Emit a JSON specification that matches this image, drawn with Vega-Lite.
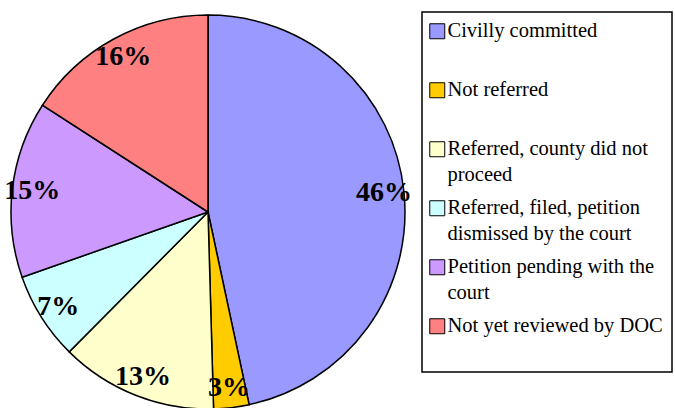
{
  "$schema": "https://vega.github.io/schema/vega-lite/v6.json",
  "width": 416,
  "height": 392,
  "autosize": "none",
  "padding": {"left": 0, "top": 16, "right": 259, "bottom": 0},
  "background": "white",
  "data": {
    "values": [
      {"order": 1, "status": "Civilly committed", "pct": 46.7, "label": "46%"},
      {"order": 2, "status": "Not  referred", "pct": 2.9, "label": "3%"},
      {"order": 3, "status": "Referred, county did not proceed", "pct": 12.9, "label": "13%"},
      {"order": 4, "status": "Referred, filed, petition dismissed by the court", "pct": 7.2, "label": "7%"},
      {"order": 5, "status": "Petition pending with the court", "pct": 14.5, "label": "15%"},
      {"order": 6, "status": "Not yet reviewed by DOC", "pct": 15.9, "label": "16%"}
    ]
  },
  "encoding": {
    "theta": {"field": "pct", "type": "quantitative", "stack": true},
    "order": {"field": "order", "type": "quantitative"}
  },
  "layer": [
    {
      "mark": {"type": "arc", "outerRadius": 197, "stroke": "black", "strokeWidth": 1.5},
      "encoding": {
        "color": {
          "field": "status",
          "type": "nominal",
          "sort": null,
          "scale": {
            "domain": ["Civilly committed", "Not  referred", "Referred, county did not proceed", "Referred, filed, petition dismissed by the court", "Petition pending with the court", "Not yet reviewed by DOC"],
            "range": ["#9999FF", "#FFCC00", "#FFFFCC", "#CCFFFF", "#CC99FF", "#FF8080"]
          },
          "legend": {
            "orient": "none",
            "legendX": 422,
            "legendY": -4,
            "title": null,
            "symbolType": "square",
            "symbolSize": 225,
            "symbolStrokeColor": "black",
            "symbolStrokeWidth": 1,
            "symbolOpacity": 1,
            "symbolOffset": -4,
            "labelFont": "Liberation Serif",
            "labelFontSize": 20.5,
            "labelColor": "black",
            "labelLimit": 300,
            "labelOffset": 0,
            "labelBaseline": "middle",
            "rowPadding": 12,
            "padding": 9,
            "strokeColor": "black",
            "labelExpr": "datum.label == 'Referred, county did not proceed' ? ['Referred, county did not', 'proceed'] : datum.label == 'Referred, filed, petition dismissed by the court' ? ['Referred, filed, petition', 'dismissed by the court'] : datum.label == 'Petition pending with the court' ? ['Petition pending with the', 'court'] : [datum.label, '']",
            "encode": {"labels": {"update": {"lineHeight": {"value": 26}}}}
          }
        }
      }
    },
    {
      "mark": {"type": "text", "radius": 177, "font": "Liberation Serif", "fontWeight": "bold", "fontSize": 28, "color": "black"},
      "encoding": {"text": {"field": "label"}}
    }
  ],
  "config": {
    "view": {"stroke": null},
    "legend": {"strokeWidth": 1.5}
  }
}
